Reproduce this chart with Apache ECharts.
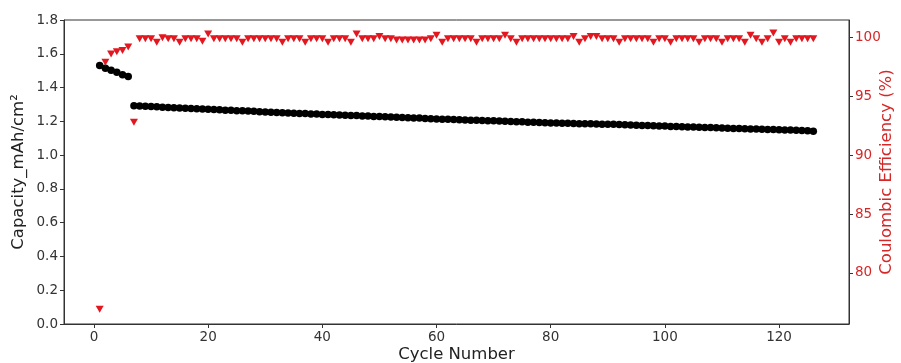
<!DOCTYPE html>
<html>
<head>
<meta charset="utf-8">
<script src="https://cdn.jsdelivr.net/npm/echarts@6/dist/echarts.min.js"></script>
<style>html,body{margin:0;padding:0;background:#fff}#c{width:901px;height:363px}</style>
</head>
<body>
<div id="c"></div>
<script>
const cycles = [1,2,3,4,5,6,7,8,9,10,11,12,13,14,15,16,17,18,19,20,21,22,23,24,25,26,27,28,29,30,
31,32,33,34,35,36,37,38,39,40,41,42,43,44,45,46,47,48,49,50,51,52,53,54,55,56,57,58,59,60,
61,62,63,64,65,66,67,68,69,70,71,72,73,74,75,76,77,78,79,80,81,82,83,84,85,86,87,88,89,90,
91,92,93,94,95,96,97,98,99,100,101,102,103,104,105,106,107,108,109,110,111,112,113,114,115,116,117,118,119,120,
121,122,123,124,125,126];

const capacity = [1.530,1.515,1.502,1.490,1.476,1.465,
1.292,1.291,1.290,1.288,1.286,1.284,1.282,1.281,1.279,1.278,
1.276,1.274,1.273,1.271,1.270,1.268,1.266,1.265,1.263,1.262,
1.261,1.259,1.257,1.256,1.254,1.253,1.251,1.250,1.248,1.247,
1.246,1.244,1.243,1.241,1.240,1.239,1.238,1.236,1.235,1.234,
1.232,1.231,1.229,1.228,1.227,1.226,1.224,1.223,1.221,1.220,
1.219,1.217,1.216,1.214,1.213,1.212,1.211,1.210,1.208,1.207,
1.206,1.205,1.204,1.203,1.202,1.200,1.199,1.198,1.197,1.195,
1.194,1.193,1.192,1.190,1.190,1.189,1.188,1.187,1.186,1.186,
1.185,1.184,1.183,1.183,1.182,1.181,1.180,1.178,1.177,1.176,
1.175,1.174,1.173,1.172,1.170,1.169,1.168,1.167,1.166,1.165,
1.164,1.163,1.162,1.160,1.159,1.158,1.157,1.156,1.155,1.154,
1.153,1.152,1.151,1.150,1.149,1.148,1.147,1.145,1.144,1.142];

const efficiency = [76.9,97.9,98.6,98.8,98.9,99.2,92.8,
99.9,99.9,99.9,99.6,100.0,99.9,99.9,99.6,99.9,99.9,
99.9,99.7,100.3,99.9,99.9,99.9,99.9,99.9,99.6,99.9,
99.9,99.9,99.9,99.9,99.9,99.6,99.9,99.9,99.9,99.6,
99.9,99.9,99.9,99.6,99.9,99.9,99.9,99.6,100.3,99.9,
99.9,99.9,100.1,99.9,99.9,99.8,99.8,99.8,99.8,99.8,
99.8,99.9,100.2,99.6,99.9,99.9,99.9,99.9,99.9,99.6,
99.9,99.9,99.9,99.9,100.2,99.9,99.6,99.9,99.9,99.9,
99.9,99.9,99.9,99.9,99.9,99.9,100.1,99.6,99.9,100.1,
100.1,99.9,99.9,99.9,99.6,99.9,99.9,99.9,99.9,99.9,
99.6,99.9,99.9,99.6,99.9,99.9,99.9,99.9,99.6,99.9,
99.9,99.9,99.6,99.9,99.9,99.9,99.6,100.2,99.9,99.6,
99.9,100.4,99.6,99.9,99.6,99.9,99.9,99.9,99.9];

const xTicks = [0,20,40,60,80,100,120];
const rightTicks = [80,85,90,95,100];

const capData = cycles.map((c,i)=>[c,capacity[i]]);
const effData = cycles.map((c,i)=>[c,efficiency[i]]);

const font = 'DejaVu Sans';
const chart = echarts.init(document.getElementById('c'), null, {renderer:'canvas'});
chart.setOption({
  animation:false,
  backgroundColor:'#fff',
  grid:{left:64,right:52,top:20,bottom:39,show:true,borderColor:'#333',borderWidth:1,containLabel:false,outerBoundsMode:'none'},
  xAxis:{
    type:'value',min:-5.25,max:132.25,
    name:'Cycle Number',nameLocation:'middle',nameGap:22,nameMoveOverlap:false,
    nameTextStyle:{fontFamily:font,fontSize:16.5,color:'#222'},
    axisLine:{show:true,onZero:false,lineStyle:{color:'#333',width:1}},
    axisTick:{show:true,inside:false,length:4,customValues:xTicks,lineStyle:{color:'#333'}},
    axisLabel:{customValues:xTicks,fontFamily:font,fontSize:13.5,color:'#333',margin:6},
    splitLine:{show:false}
  },
  yAxis:[{
    type:'value',min:0,max:1.8,interval:0.2,position:'left',
    name:'Capacity_mAh/cm²',nameLocation:'middle',nameGap:37,nameMoveOverlap:false,
    nameTextStyle:{fontFamily:font,fontSize:16.5,color:'#222'},
    axisLine:{show:true,onZero:false,lineStyle:{color:'#333',width:1}},
    axisTick:{show:true,inside:false,length:4,lineStyle:{color:'#333'}},
    axisLabel:{fontFamily:font,fontSize:13.5,color:'#333',margin:6,formatter:v=>v.toFixed(1)},
    splitLine:{show:false}
  },{
    type:'value',min:75.65,max:101.5,position:'right',
    name:'Coulombic Efficiency (%)',nameLocation:'middle',nameGap:29,nameRotate:90,nameMoveOverlap:false,
    nameTextStyle:{fontFamily:font,fontSize:16.5,color:'#d62728'},
    axisLine:{show:true,onZero:false,lineStyle:{color:'#333',width:1}},
    axisTick:{show:true,inside:false,length:4,customValues:rightTicks,lineStyle:{color:'#333'}},
    axisLabel:{customValues:rightTicks,fontFamily:font,fontSize:13.5,color:'#d62728',margin:6},
    splitLine:{show:false}
  }],
  series:[{
    type:'scatter',yAxisIndex:0,data:capData,
    symbol:'circle',symbolSize:7.5,
    itemStyle:{color:'#000',opacity:1},z:2
  },{
    type:'scatter',yAxisIndex:1,data:effData,
    symbol:'triangle',symbolSize:[8,7],symbolRotate:180,
    itemStyle:{color:'#e3171f',opacity:1},z:3
  }]
});
</script>
</body>
</html>
